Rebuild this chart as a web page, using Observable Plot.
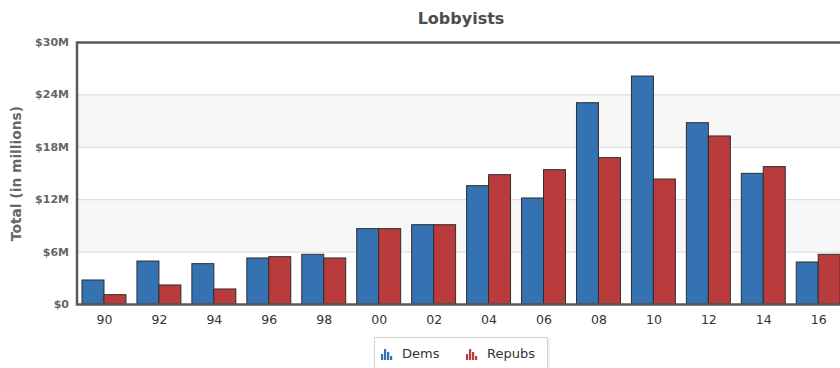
<!DOCTYPE html>
<html>
<head>
<meta charset="utf-8">
<script src="https://cdn.jsdelivr.net/npm/d3@7"></script>
<script src="https://cdn.jsdelivr.net/npm/@observablehq/plot@0.6"></script>
<style>
  html, body { margin: 0; padding: 0; background: #fff; overflow: hidden; }
  #wrap { position: relative; width: 840px; height: 368px; overflow: hidden; font-family: "DejaVu Sans", Verdana, sans-serif; }
  #title { position: absolute; top: 9px; left: 361px; width: 200px; text-align: center; font-size: 16px; font-weight: bold; color: #4d4d4d; }
  #legend { position: absolute; left: 374px; top: 337px; width: 174px; height: 40px; border: 1px solid #d4d4d4; box-shadow: 1px 1px 2px rgba(0,0,0,0.12); background: #fff; box-sizing: border-box; }
  .item { position: absolute; top: 8px; font-size: 13px; color: #333; display: flex; align-items: center; }
  .item svg { margin-right: 9px; }
</style>
</head>
<body>
<div id="wrap">
  <div id="chart"></div>
  <div id="title">Lobbyists</div>
  <div id="legend"></div>
</div>
<script>
const years  = ["90","92","94","96","98","00","02","04","06","08","10","12","14","16"];
const dems   = [2.75, 4.92, 4.62, 5.27, 5.69, 8.63, 9.08, 13.55, 12.14, 23.05, 26.10, 20.76, 14.96, 4.81];
const repubs = [1.07, 2.18, 1.72, 5.42, 5.27, 8.63, 9.08, 14.81, 15.38, 16.76, 14.31, 19.24, 15.73, 5.69];
const yTicks = [0, 6, 12, 18, 24, 30];
const seriesNames = ["Dems", "Repubs"];
const seriesColors = ["#3572b2", "#b93b3b"];

const groupPad = 0.1; // fraction of each category slot left empty on each side
const rows = [];
years.forEach((yr, i) => {
  rows.push({i, series: 0, value: dems[i], x1: i + groupPad, x2: i + 0.5});
  rows.push({i, series: 1, value: repubs[i], x1: i + 0.5, x2: i + 1 - groupPad});
});
const bands = [];
for (let k = 1; k < yTicks.length - 1; k += 2) bands.push({y1: yTicks[k], y2: yTicks[k + 1]});
const font = "DejaVu Sans, Verdana, sans-serif";

const chart = Plot.plot({
  width: 840,
  height: 368,
  marginTop: 42,
  marginBottom: 64,
  marginLeft: 76.5,
  marginRight: -5.7,
  x: {domain: [0, years.length], axis: null},
  y: {domain: [0, 30], axis: null},
  marks: [
    Plot.rect(bands, {x1: 0, x2: years.length, y1: "y1", y2: "y2", fill: "#f7f7f7"}),
    Plot.ruleY(yTicks, {stroke: "#d9d9d9", strokeWidth: 1}),
    Plot.rectY(rows, {x1: "x1", x2: "x2", y1: 0, y2: "value",
      fill: d => seriesColors[d.series], stroke: "#2e2e2e", strokeWidth: 1}),
    Plot.frame({stroke: "#5a5a5a", strokeWidth: 2.5}),
    Plot.text(yTicks, {x: 0, y: d => d, dx: -8, textAnchor: "end",
      text: d => d === 0 ? "$0" : `$${d}M`, fontSize: 11, fontWeight: "bold", fill: "#666", fontFamily: font}),
    Plot.text(years, {x: (d, i) => i + 0.5, y: 0, dy: 15, text: d => d,
      fontSize: 12.5, fill: "#333", fontFamily: font}),
    Plot.text(["Total (in millions)"], {frameAnchor: "left", textAnchor: "middle", dx: -60.5, rotate: -90, text: d => d,
      fontSize: 13.8, fontWeight: "bold", fill: "#666", fontFamily: font})
  ]
});
document.getElementById("chart").appendChild(chart);

// legend
const legend = document.getElementById("legend");
const iconBars = [6, 11, 8, 4];
seriesNames.forEach((name, k) => {
  const item = document.createElement("div");
  item.className = "item";
  item.style.left = (k === 0 ? 6 : 91) + "px";
  const ns = "http://www.w3.org/2000/svg";
  const svg = document.createElementNS(ns, "svg");
  svg.setAttribute("width", 12); svg.setAttribute("height", 12);
  iconBars.forEach((h, j) => {
    const r = document.createElementNS(ns, "rect");
    r.setAttribute("x", j * 3); r.setAttribute("width", 2.2);
    r.setAttribute("y", 12 - h); r.setAttribute("height", h);
    r.setAttribute("fill", seriesColors[k]);
    svg.appendChild(r);
  });
  item.appendChild(svg);
  const t = document.createElement("span");
  t.textContent = name;
  item.appendChild(t);
  legend.appendChild(item);
});
</script>
</body>
</html>
